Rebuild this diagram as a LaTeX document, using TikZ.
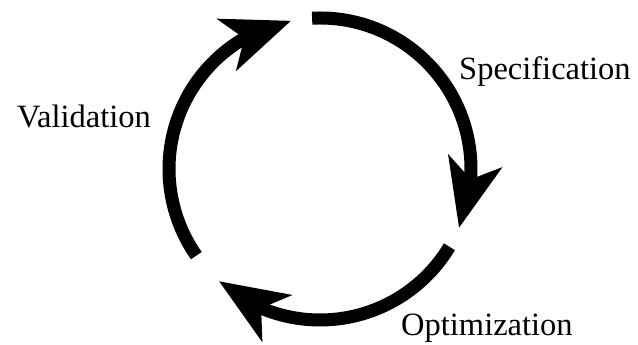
\documentclass[tikz,border=0pt]{standalone}
\usepackage{fontspec}
\setmainfont{Liberation Serif}
\newfontfamily\lblfont{Liberation Serif}
\usepackage{tikz}
\usetikzlibrary{arrows.meta,bending,calc}

\begin{document}
\begin{tikzpicture}[
x=1pt, y=1pt,
arr/.style={line width=13pt, -{Stealth[length=68pt, width=54pt, inset=18pt]}},
lbl/.style={anchor=base west, inner sep=0pt, font=\lblfont\fontsize{32.5}{39}\selectfont}
]
\useasboundingbox (0,0) rectangle (638,345);
\coordinate (c) at (320,176);

\node[lbl] (val) at (17,217) {Validation};
\node[lbl] (spec) at (459,265) {Specification};
\node[lbl] (opt) at (401,9) {Optimization};

\draw[arr] (c) ++(93:151) arc[start angle=93, end angle=-23, radius=151];
\draw[arr] (c) ++(-31:151) arc[start angle=-31, end angle=-132, radius=151];
\draw[arr] (c) ++(215:151) arc[start angle=215, end angle=101, radius=151];
\end{tikzpicture}
\end{document}
